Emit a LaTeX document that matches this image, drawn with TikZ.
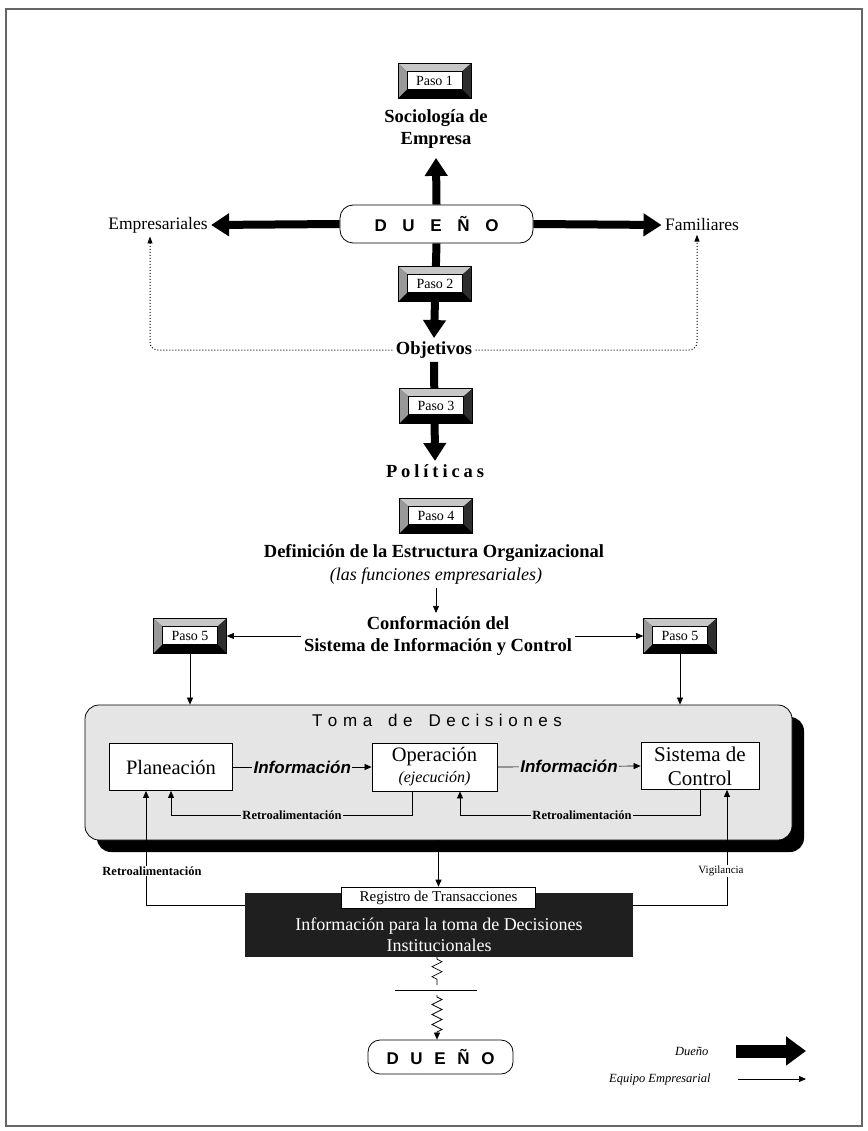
\documentclass[tikz,border=0pt]{standalone}
\usepackage{fontspec}
\setmainfont{Liberation Serif}
\setsansfont{Liberation Sans}
\usetikzlibrary{arrows.meta,decorations.pathmorphing,shadows,calc}

\definecolor{panel}{gray}{0.90}
\definecolor{bevellight}{gray}{0.78}
\definecolor{bevelmid}{gray}{0.60}
\definecolor{bevelright}{gray}{0.18}

\tikzset{
  frame/.style={draw=black!60, line width=2pt},
  owner/.style={line width=8pt, -{Triangle[width=22pt,length=18pt]}},
  ownerkey/.style={line width=13pt, -{Triangle[width=28pt,length=20pt]}},
  team/.style={line width=0.7pt, -{Triangle[width=6pt,length=7pt]}},
  plainline/.style={line width=0.7pt},
  dotline/.style={line width=1pt, dotted, rounded corners=8pt, -{Triangle[width=5pt,length=7pt]}},
  heading/.style={font=\fontsize{18.5}{22}\selectfont\bfseries, align=center},
  side/.style={font=\fontsize{17.5}{20}\selectfont},
  ownerbox/.style={draw, line width=0.8pt, rounded corners=13pt, fill=white,
    minimum width=193pt, minimum height=38pt, font=\sffamily\bfseries\fontsize{17}{19}\selectfont},
  pasobox/.style={draw=black, line width=0.6pt, fill=black, minimum width=73pt, minimum height=35pt,
    inner sep=0pt, font=\fontsize{14}{15}\selectfont,
    path picture={
      \coordinate (NW) at (path picture bounding box.north west);
      \coordinate (NE) at (path picture bounding box.north east);
      \coordinate (SW) at (path picture bounding box.south west);
      \coordinate (SE) at (path picture bounding box.south east);
      \coordinate (iNW) at ([shift={(9pt,-8pt)}]NW);
      \coordinate (iNE) at ([shift={(-9pt,-8pt)}]NE);
      \coordinate (iSW) at ([shift={(9pt,9pt)}]SW);
      \coordinate (iSE) at ([shift={(-9pt,9pt)}]SE);
      \fill[bevellight] (NW) -- (NE) -- (iNE) -- (iNW) -- cycle;
      \fill[bevelmid] (NW) -- (iNW) -- (iSW) -- (SW) -- cycle;
      \fill[bevelright] (NE) -- (SE) -- (iSE) -- (iNE) -- cycle;
      \fill[black] (SW) -- (SE) -- (iSE) -- (iSW) -- cycle;
      \filldraw[fill=white, draw=black, line width=0.6pt] (iNW) rectangle (iSE);
    }},
  stepbox/.style={draw, line width=0.8pt, fill=white, minimum width=123pt, minimum height=47pt,
    font=\fontsize{20.5}{23}\selectfont, align=center, inner sep=2pt},
  flowlabel/.style={fill=panel, inner sep=1.5pt, font=\sffamily\bfseries\itshape\fontsize{17}{19}\selectfont},
  smalllabel/.style={inner sep=1pt, font=\bfseries\fontsize{12.5}{14}\selectfont},
}

\begin{document}
\begin{tikzpicture}[x=1pt,y=-1pt]
\useasboundingbox (0,0) rectangle (867,1131);
\draw[frame] (6,9) rectangle (862,1126);

% ---- owner, objectives and policies ----
\node[heading] (soc) at (436,129) {Sociología de\\Empresa};
\node[ownerbox] (own) at (436.5,224) {\hbox to 124pt{D\hfill U\hfill E\hfill Ñ\hfill O}};
\node[side] (emp) at (158,225) {Empresariales};
\node[side] (fam) at (702,225) {Familiares};
\node[heading] (obj) at (434,350) {Objetivos};
\node[heading] (pol) at (435,471) {\hbox to 98pt{P\hfill o\hfill l\hfill í\hfill t\hfill i\hfill c\hfill a\hfill s}};

\draw[owner] (own.north) -- ([yshift=-6pt]soc.south);
\draw[owner] (own.west) -- (emp.east);
\draw[owner] (own.east) -- (fam.west);
\draw[owner] (own.south) -- (obj.north);
\draw[owner] (obj.south) -- (pol.north);
\draw[dotline] (obj.west) -| ([xshift=-8pt]emp.south);
\draw[dotline] (obj.east) -| ([xshift=-5pt]fam.south);

\node[pasobox] (p1) at (434.5,81) {Paso 1};
\node[pasobox] (p2) at (435,284) {Paso 2};
\node[pasobox] (p3) at (436,406) {Paso 3};
\node[pasobox] (p4) at (436,516) {Paso 4};

% ---- structure and information system ----
\node[heading] (def) at (434,553) {Definición de la Estructura Organizacional};
\node[font=\itshape\fontsize{18}{20}\selectfont] (fun) at (436,576) {(las funciones empresariales)};
\node[heading] (conf) at (438,636) {Conformación del\\Sistema de Información y Control};
\node[pasobox] (p5l) at (190,636) {Paso 5};
\node[pasobox] (p5r) at (680,636) {Paso 5};
\draw[team] (fun.south) -- (fun.south |- conf.north);
\draw[team] (conf.west) -- (p5l.east);
\draw[team] (conf.east) -- (p5r.west);

% ---- decision making panel ----
\node[draw, line width=0.8pt, rounded corners=14pt, fill=panel, minimum width=707pt, minimum height=135pt,
  drop shadow={shadow xshift=12pt, shadow yshift=-12pt, fill=black, opacity=1}] (toma) at (438.5,772.5) {};
\node[font=\sffamily\fontsize{17}{19}\selectfont] (tomat) at (437,720) {\hbox to 250pt{T\hfill o\hfill m\hfill a\hfill\ \hfill d\hfill e\hfill\ \hfill D\hfill e\hfill c\hfill i\hfill s\hfill i\hfill o\hfill n\hfill e\hfill s}};
\draw[team] (p5l.south) -- (p5l.south |- toma.north);
\draw[team] (p5r.south) -- (p5r.south |- toma.north);

\node[stepbox] (plan) at (171,767) {Planeación};
\node[stepbox, minimum width=125pt, minimum height=48pt] (op) at (434.5,767) {Operación\\[-2pt]{\itshape\fontsize{16}{18}\selectfont (ejecución)}};
\node[stepbox, minimum width=118pt, font=\fontsize{21}{24}\selectfont] (sc) at (700,766) {Sistema de\\Control};

\draw[team] (plan.east) -- node[flowlabel] {Información} (op.west);
\draw[team] (op.east) -- node[flowlabel] {Información} (sc.west);

\coordinate (fbA) at (171,815);
\coordinate (fbB) at (460,815);
\draw[team] ([xshift=-22pt]op.south) |- (fbA) -- (plan.south);
\node[smalllabel, fill=panel] (fbAl) at (292,815) {Retroalimentación};
\draw[team] (sc.south) |- (fbB) -- (fbB |- op.south);
\node[smalllabel, fill=panel] (fbBl) at (582,815) {Retroalimentación};

% ---- institutional information ----
\node[fill=black!88, minimum width=388pt, minimum height=64pt] (info) at (439,925) {};
\node[font=\fontsize{18}{21}\selectfont, text=white, align=center] (infot) at (439,935) {Información para la toma de Decisiones\\Institucionales};
\node[draw, line width=0.6pt, fill=white, minimum width=194pt, minimum height=21pt, inner sep=1pt,
  font=\fontsize{15}{16}\selectfont] (reg) at (438.5,897.5) {Registro de Transacciones};
\draw[team] (toma.south) -- (reg.north);

\draw[team] ([yshift=20pt]info.west) -| ([xshift=-25pt]plan.south);
\node[smalllabel, fill=white] (rl) at (152,871) {Retroalimentación};
\draw[team] ([yshift=20pt]info.east) -| ([xshift=27pt]sc.south);
\node[fill=white, inner sep=1pt, font=\fontsize{11}{12}\selectfont] (vl) at (721,871) {Vigilancia};

% ---- back to the owner ----
\node[ownerbox, minimum width=145pt, minimum height=34pt, rounded corners=12pt] (own2) at (440.5,1057) {\hbox to 108pt{D\hfill U\hfill E\hfill Ñ\hfill O}};
\coordinate (zA) at (437,985);
\coordinate (zB) at (437,995);
\coordinate (cutL) at (395,990);
\coordinate (cutR) at (477,990);
\draw[plainline, decorate, decoration={zigzag, segment length=10pt, amplitude=5pt, pre length=2pt, post length=2pt}] (info.south -| zA) -- (zA);
\draw[plainline] (cutL) -- (cutR);
\draw[team, decoration={zigzag, segment length=10pt, amplitude=5pt, pre length=2pt, post length=6pt}, decorate] (zB) -- (zB |- own2.north);

% ---- key ----
\node[font=\itshape\fontsize{12.5}{14}\selectfont, anchor=east] (kown) at (712,1051) {Dueño};
\node[font=\itshape\fontsize{12.5}{14}\selectfont, anchor=east] (kteam) at (714,1079) {Equipo Empresarial};
\coordinate (kownB) at (806,1051);
\coordinate (kteamB) at (806,1079);
\draw[ownerkey] ([xshift=24pt]kown.east) -- (kownB);
\draw[team] ([xshift=24pt]kteam.east) -- (kteamB);
\end{tikzpicture}
\end{document}
